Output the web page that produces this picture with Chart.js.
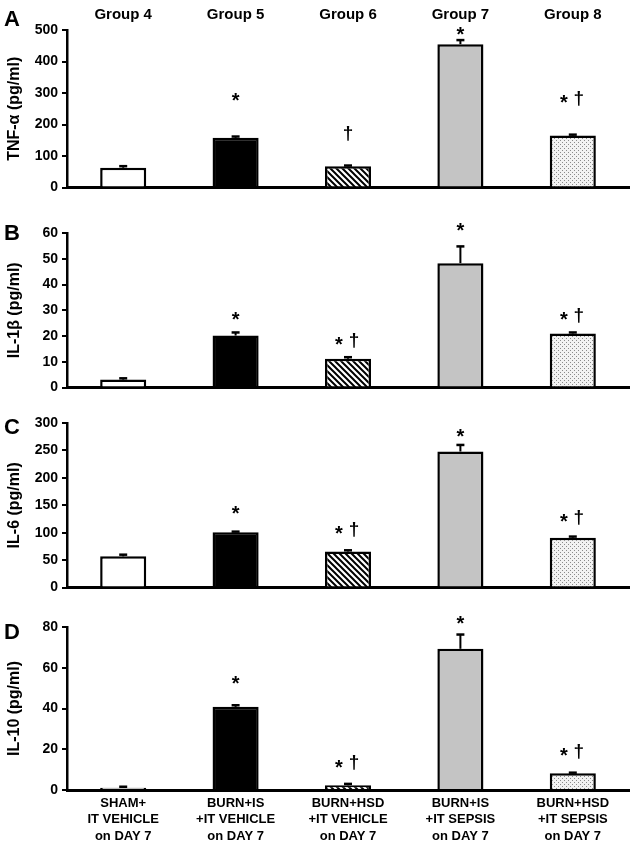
<!DOCTYPE html>
<html>
<head>
<meta charset="utf-8">
<script src="https://cdn.jsdelivr.net/npm/chart.js@4.4.1/dist/chart.umd.min.js"></script>
<style>
  body { margin: 0; background: #fff; }
  #wrap { position: relative; width: 636px; height: 845px; }
  canvas { position: absolute; left: 0; }
</style>
</head>
<body>
<div id="wrap">
  <canvas id="panelA" width="636" height="200" style="top:0px"></canvas>
  <canvas id="panelB" width="636" height="200" style="top:200px"></canvas>
  <canvas id="panelC" width="636" height="200" style="top:400px"></canvas>
  <canvas id="panelD" width="636" height="245" style="top:600px"></canvas>
</div>
<script>
const groups = ['Group 4', 'Group 5', 'Group 6', 'Group 7', 'Group 8'];
const categories = [
  ['SHAM+', 'IT VEHICLE', 'on DAY 7'],
  ['BURN+IS', '+IT VEHICLE', 'on DAY 7'],
  ['BURN+HSD', '+IT VEHICLE', 'on DAY 7'],
  ['BURN+IS', '+IT SEPSIS', 'on DAY 7'],
  ['BURN+HSD', '+IT SEPSIS', 'on DAY 7']
];

// TNF-alpha
const tnfMean = [63, 158, 68, 455, 165];
const tnfErr = [5, 4, 2, 13, 3];
const tnfMarks = [[], ['*'], ['†'], ['*'], ['*', '†']];
const tnfMarkLevel = [null, 288, 170, 497, 282];

// IL-1 beta
const il1bMean = [3.1, 20.2, 11.2, 48.3, 21.0];
const il1bErr = [0.5, 1.2, 0.6, 6.5, 0.4];
const il1bMarks = [[], ['*'], ['*', '†'], ['*'], ['*', '†']];
const il1bMarkLevel = [null, 28.1, 18.2, 62.5, 27.9];

// IL-6
const il6Mean = [57, 101, 66, 248, 91];
const il6Err = [3, 1, 2, 12, 2];
const il6Marks = [[], ['*'], ['*', '†'], ['*'], ['*', '†']];
const il6MarkLevel = [null, 143, 106, 283, 127];

// IL-10
const il10Mean = [1.1, 40.8, 2.3, 69.3, 8.2];
const il10Err = [0.5, 0.8, 0.7, 7.0, 0.3];
const il10Marks = [[], ['*'], ['*', '†'], ['*'], ['*', '†']];
const il10MarkLevel = [null, 54.4, 13.2, 83.8, 18.8];

const FONT = "'Liberation Sans', Arial, sans-serif";

function hatchPattern() {
  const c = document.createElement('canvas');
  c.width = 6; c.height = 6;
  const g = c.getContext('2d');
  g.fillStyle = '#fff';
  g.fillRect(0, 0, 6, 6);
  g.strokeStyle = '#000';
  g.lineWidth = 2;
  g.beginPath();
  g.moveTo(-1, -1); g.lineTo(7, 7);
  g.moveTo(-4, 2); g.lineTo(2, 8);
  g.moveTo(2, -4); g.lineTo(8, 2);
  g.stroke();
  return g.createPattern(c, 'repeat');
}

function dotPattern() {
  const c = document.createElement('canvas');
  c.width = 4; c.height = 4;
  const g = c.getContext('2d');
  g.fillStyle = '#f2f2f2';
  g.fillRect(0, 0, 4, 4);
  g.fillStyle = '#8a8a8a';
  g.fillRect(0, 0, 1, 1);
  g.fillRect(2, 2, 1, 1);
  return g.createPattern(c, 'repeat');
}

const fills = ['#ffffff', '#000000', hatchPattern(), '#c4c4c4', dotPattern()];

// error bars, significance marks and the panel letter
const extras = {
  id: 'extras',
  afterDatasetsDraw(chart, args, opts) {
    const ctx = chart.ctx;
    const y = chart.scales.y;
    const meta = chart.getDatasetMeta(0);
    ctx.save();
    ctx.strokeStyle = '#000';
    ctx.fillStyle = '#000';
    opts.mean.forEach((m, i) => {
      const x = meta.data[i].x;
      const y0 = y.getPixelForValue(m);
      const y1 = y.getPixelForValue(m + opts.err[i]);
      ctx.lineWidth = 2;
      ctx.beginPath();
      ctx.moveTo(x, y0);
      ctx.lineTo(x, y1);
      ctx.stroke();
      ctx.lineWidth = 2.5;
      ctx.beginPath();
      ctx.moveTo(x - 4, y1);
      ctx.lineTo(x + 4, y1);
      ctx.stroke();

      const marks = opts.marks[i];
      if (!marks.length) return;
      const my = y.getPixelForValue(opts.level[i]);
      ctx.textAlign = 'center';
      ctx.textBaseline = 'middle';
      marks.forEach((s, k) => {
        const mx = marks.length === 1 ? x : x + (k === 0 ? -9 : 6);
        if (s === '*') {
          ctx.font = 'bold 20px ' + FONT;
          ctx.fillText(s, mx, my + 5);
        } else {
          ctx.font = 'bold 19px ' + FONT;
          ctx.fillText(s, mx, my);
        }
      });
    });
    ctx.font = 'bold 22px ' + FONT;
    ctx.textAlign = 'left';
    ctx.textBaseline = 'alphabetic';
    ctx.fillText(opts.letter, 4, opts.letterY);
    ctx.restore();
  }
};

function makePanel(id, o) {
  const scales = {
    x: {
      type: 'category',
      grid: { display: false, drawTicks: false },
      border: { display: true, color: '#000', width: 3 },
      ticks: {
        display: !!o.showCategories,
        color: '#000',
        font: { family: FONT, size: 13, weight: 'bold', lineHeight: 1.27 },
        padding: 5,
        maxRotation: 0,
        autoSkip: false
      },
      afterFit: s => { s.height = o.xHeight; }
    },
    y: {
      min: 0,
      max: o.max,
      grid: { display: true, drawOnChartArea: false, drawTicks: true, tickLength: 5, color: '#000', lineWidth: 2 },
      border: { display: true, color: '#000', width: 2.5 },
      ticks: {
        stepSize: o.step,
        color: '#000',
        padding: 4,
        font: { family: FONT, size: 14, weight: 'bold' }
      },
      title: {
        display: true,
        text: o.title,
        color: '#000',
        padding: { top: 5, bottom: 0 },
        font: { family: FONT, size: 16, weight: 'bold' }
      },
      afterFit: s => { s.width = 67; }
    }
  };
  if (o.showGroups) {
    scales.top = {
      type: 'category',
      position: 'top',
      labels: groups,
      offset: true,
      grid: { display: false, drawTicks: false },
      border: { display: false },
      ticks: {
        color: '#000',
        padding: 6,
        font: { family: FONT, size: 15, weight: 'bold' }
      },
      afterFit: s => { s.height = 30; }
    };
  }
  return new Chart(document.getElementById(id), {
    type: 'bar',
    data: {
      labels: categories,
      datasets: [{
        data: o.mean,
        backgroundColor: fills,
        borderColor: '#000',
        borderWidth: 2.5,
        barPercentage: 0.41,
        categoryPercentage: 1
      }]
    },
    options: {
      responsive: false,
      animation: false,
      devicePixelRatio: 1,
      layout: { padding: { top: o.padTop, left: 0, right: 7, bottom: 0 } },
      scales: scales,
      plugins: {
        legend: { display: false },
        tooltip: { enabled: false },
        extras: {
          mean: o.mean, err: o.err, marks: o.marks, level: o.level,
          letter: o.letter, letterY: o.letterY
        }
      }
    },
    plugins: [extras]
  });
}

makePanel('panelA', {
  mean: tnfMean, err: tnfErr, marks: tnfMarks, level: tnfMarkLevel,
  max: 500, step: 100, title: 'TNF-α (pg/ml)', letter: 'A', letterY: 26,
  padTop: 0, xHeight: 10, showGroups: true
});
makePanel('panelB', {
  mean: il1bMean, err: il1bErr, marks: il1bMarks, level: il1bMarkLevel,
  max: 60, step: 10, title: 'IL-1β (pg/ml)', letter: 'B', letterY: 40,
  padTop: 33, xHeight: 11
});
makePanel('panelC', {
  mean: il6Mean, err: il6Err, marks: il6Marks, level: il6MarkLevel,
  max: 300, step: 50, title: 'IL-6 (pg/ml)', letter: 'C', letterY: 34,
  padTop: 23, xHeight: 9
});
makePanel('panelD', {
  mean: il10Mean, err: il10Err, marks: il10Marks, level: il10MarkLevel,
  max: 80, step: 20, title: 'IL-10 (pg/ml)', letter: 'D', letterY: 39,
  padTop: 27, xHeight: 55, showCategories: true
});
</script>
</body>
</html>
